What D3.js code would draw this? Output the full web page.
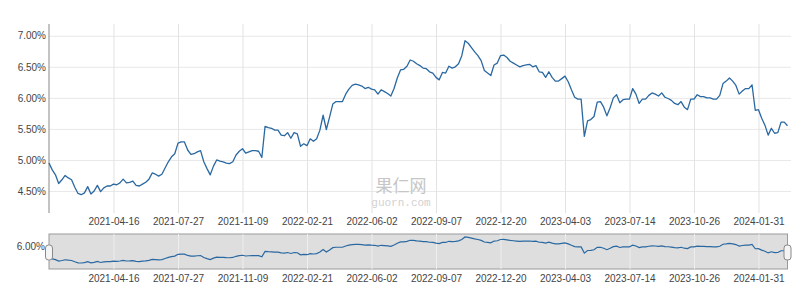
<!DOCTYPE html>
<html><head><meta charset="utf-8">
<script src="https://cdn.jsdelivr.net/npm/d3@7/dist/d3.min.js"></script>
<style>body{margin:0;background:#fff} svg{display:block}</style>
</head><body><svg id="c" width="800" height="284"></svg>
<script>
// Yield series (%) sampled at equal trading-day steps
const values = [
 4.95,4.84,4.76,4.62,4.68,4.75,4.71,4.68,4.56,4.46,
 4.44,4.47,4.57,4.45,4.50,4.59,4.49,4.55,4.58,4.58,
 4.61,4.60,4.63,4.69,4.63,4.64,4.66,4.59,4.58,4.61,
 4.64,4.69,4.79,4.77,4.74,4.77,4.87,4.97,5.05,5.10,
 5.27,5.29,5.29,5.16,5.09,5.10,5.13,5.15,4.97,4.86,
 4.76,4.90,5.00,4.98,4.97,4.95,4.94,4.97,5.08,5.14,
 5.18,5.11,5.13,5.15,5.15,5.14,5.04,5.54,5.52,5.51,
 5.48,5.48,5.40,5.39,5.44,5.35,5.44,5.42,5.22,5.26,
 5.23,5.34,5.30,5.34,5.48,5.72,5.49,5.69,5.90,5.94,
 5.94,5.94,6.06,6.14,6.20,6.22,6.21,6.19,6.15,6.17,
 6.14,6.13,6.06,6.13,6.10,6.07,6.03,6.15,6.32,6.45,
 6.46,6.51,6.61,6.59,6.55,6.52,6.48,6.47,6.42,6.40,
 6.33,6.29,6.41,6.40,6.51,6.48,6.50,6.55,6.68,6.92,
 6.88,6.81,6.74,6.68,6.60,6.44,6.40,6.36,6.53,6.56,
 6.68,6.69,6.65,6.59,6.56,6.53,6.50,6.52,6.53,6.54,
 6.50,6.52,6.42,6.41,6.33,6.42,6.33,6.27,6.27,6.31,
 6.35,6.26,6.13,6.01,5.98,5.98,5.38,5.63,5.65,5.70,
 5.93,5.94,5.85,5.71,5.84,6.00,6.05,5.92,5.97,5.98,
 5.98,6.15,6.06,5.91,5.98,5.98,6.04,6.08,6.06,6.03,
 6.08,6.01,5.99,5.96,5.91,5.89,5.94,5.85,5.81,5.98,
 5.98,6.05,6.02,6.02,6.00,6.00,5.98,5.98,6.04,6.23,
 6.27,6.32,6.27,6.20,6.06,6.11,6.15,6.15,6.21,5.80,
 5.81,5.67,5.56,5.40,5.51,5.43,5.44,5.61,5.61,5.55
];
const tickLabels = ["2021-04-16","2021-07-27","2021-11-09","2022-02-21","2022-06-02",
  "2022-09-07","2022-12-20","2023-04-03","2023-07-14","2023-10-26","2024-01-31"];
const tickStep = 20;           // samples between date labels
const yTicks = [4.5, 5.0, 5.5, 6.0, 6.5, 7.0];
const yMin = 4.145, yMax = 7.19;
const navTicks = [6.0];

const svg = d3.select("#c");
const font = "'Liberation Sans', Arial, sans-serif";
const L = 49, R = 791, T = 24, B = 213;
const NT = 234, NB = 269;
const lineColor = "#2a68a1";

const x = d3.scaleLinear().domain([0, values.length - 1]).range([L, 787.5]);
const y = d3.scaleLinear().domain([yMin, yMax]).range([B, T]);
const tickIdx = tickLabels.map((t, k) => (k + 1) * tickStep);
const labelOf = i => tickLabels[i / tickStep - 1];

// horizontal grid + y labels
const ya = d3.axisLeft(y).tickValues(yTicks).tickSize(-(R - L)).tickPadding(3)
  .tickFormat(d => d.toFixed(2) + "%");
const gy = svg.append("g").attr("transform", `translate(${L},0)`).call(ya);
gy.select(".domain").remove();
gy.selectAll("line").attr("stroke", "#e8e8e8");
gy.selectAll("text").attr("font-family", font).attr("font-size", 10).attr("fill", "#444");

// vertical grid + x labels
const xa = d3.axisBottom(x).tickValues(tickIdx).tickSize(-(B - T)).tickPadding(5).tickFormat(labelOf);
const gx = svg.append("g").attr("transform", `translate(0,${B})`).call(xa);
gx.select(".domain").remove();
gx.selectAll("line").attr("stroke", "#e2e2e2");
gx.selectAll("text").attr("font-family", font).attr("font-size", 10).attr("fill", "#444");

// y axis line
svg.append("line").attr("x1", L).attr("x2", L).attr("y1", T).attr("y2", B)
  .attr("stroke", "#888");

// watermark
svg.append("text").attr("x", 401).attr("y", 192).attr("text-anchor", "middle")
  .attr("font-family", "'Noto Sans CJK SC', sans-serif").attr("font-size", 17)
  .attr("fill", "#c6c6c6").text("果仁网");
svg.append("text").attr("x", 401).attr("y", 206).attr("text-anchor", "middle")
  .attr("font-family", "'Liberation Mono', monospace").attr("font-size", 11)
  .attr("fill", "#d2d2d2").text("guorn.com");

// main line
const line = d3.line().x((d, i) => x(i)).y(d => y(d));
svg.append("path").datum(values).attr("d", line).attr("fill", "none")
  .attr("stroke", lineColor).attr("stroke-width", 1.3).attr("stroke-linejoin", "round");

// navigator
const ny = d3.scaleLinear().domain(d3.extent(values)).range([263, 237]);
svg.append("rect").attr("x", L).attr("y", NT).attr("width", 787.5 - L).attr("height", NB - NT)
  .attr("fill", "#dedede").attr("stroke", "#9a9a9a");
const gxn = svg.append("g").attr("transform", `translate(0,${NB})`)
  .call(d3.axisBottom(x).tickValues(tickIdx).tickSize(-(NB - NT)).tickPadding(6).tickFormat(labelOf));
gxn.select(".domain").remove();
gxn.selectAll("line").attr("stroke", "#eeeeee");
gxn.selectAll("text").attr("font-family", font).attr("font-size", 10).attr("fill", "#444");
svg.append("path").datum(values).attr("d", d3.line().x((d, i) => x(i)).y(d => ny(d)))
  .attr("fill", "none").attr("stroke", lineColor).attr("stroke-width", 1.2);
svg.append("g").selectAll("text").data(navTicks).join("text")
  .attr("x", 45).attr("y", d => ny(d) + 3).attr("text-anchor", "end")
  .attr("font-family", font).attr("font-size", 10).attr("fill", "#444")
  .text(d => d.toFixed(2) + "%");
// handles
[L, 787.5].forEach(hx => {
  svg.append("rect").attr("x", hx - 3.5).attr("y", 245).attr("width", 7).attr("height", 15)
    .attr("rx", 3).attr("fill", "#f4f4f4").attr("stroke", "#888");
});
</script></body></html>
